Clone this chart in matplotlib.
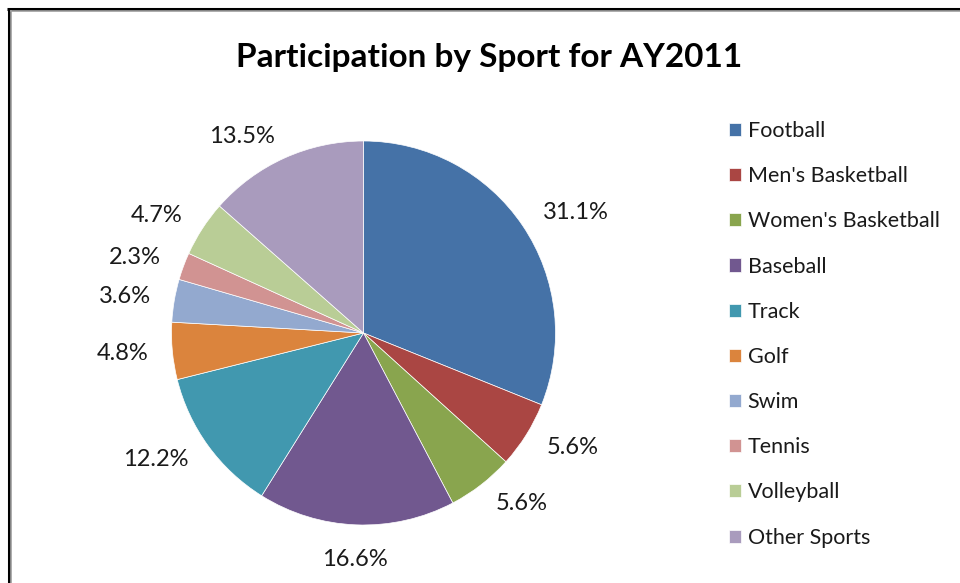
import math
import matplotlib
matplotlib.use("Agg")
import matplotlib.pyplot as plt
from matplotlib.lines import Line2D

sports = ["Football", "Men's Basketball", "Women's Basketball", "Baseball", "Track",
          "Golf", "Swim", "Tennis", "Volleyball", "Other Sports"]
shares = [31.1, 5.6, 5.6, 16.6, 12.2, 4.8, 3.6, 2.3, 4.7, 13.5]
colors = ["#4572A7", "#AA4643", "#89A54E", "#71588F", "#4198AF",
          "#DB843D", "#93A9CF", "#D19392", "#B9CD96", "#A99BBD"]
title = "Participation by Sport for AY2011"

plt.rcParams['font.family'] = ['Lato', 'DejaVu Sans']

W, H = 960, 583
fig = plt.figure(figsize=(W / 100, H / 100), dpi=100)

cx, cy, R = 363.5, 333.0, 192.0
ax = fig.add_axes([(cx - R) / W, (H - cy - R) / H, 2 * R / W, 2 * R / H])
wedges, _ = ax.pie(shares, colors=colors, startangle=90, counterclock=False,
                   radius=1.0, wedgeprops=dict(edgecolor='white', linewidth=0.5))
ax.set_xlim(-1, 1)
ax.set_ylim(-1, 1)
ax.set_aspect('auto')
ax.axis('off')

ld = 1.125
for w, v in zip(wedges, shares):
    th = math.radians((w.theta1 + w.theta2) / 2)
    c, s = math.cos(th), math.sin(th)
    x, y = ld * c, ld * s
    if abs(c) < 0.2:
        ha = 'center'
        va = 'top' if s < 0 else 'bottom'
    else:
        ha = 'left' if c > 0 else 'right'
        va = 'center'
    ax.text(x, y, f"{v:.1f}%", ha=ha, va=va, fontsize=17, color='#1a1a1a',
            clip_on=False)

fig.text(489 / W, (H - 57) / H, title, ha='center', va='center',
         fontsize=24, fontweight='bold', color='black')

leg = fig.legend(wedges, sports, loc='upper left',
                 bbox_to_anchor=(729 / W, (H - 121) / H), frameon=False,
                 fontsize=15.5, handlelength=0.56, handleheight=0.56,
                 handletextpad=0.3, labelspacing=1.17, borderpad=0, borderaxespad=0)
for t in leg.get_texts():
    t.set_color('#1a1a1a')

# chart border (top and left edges visible)
fig.add_artist(Line2D([8.5 / W, 8.5 / W], [0, (H - 8.5) / H], color='black',
                      linewidth=2.2, transform=fig.transFigure, solid_capstyle='butt'))
fig.add_artist(Line2D([7 / W, 1], [(H - 8.5) / H, (H - 8.5) / H], color='black',
                      linewidth=2.2, transform=fig.transFigure, solid_capstyle='butt'))
fig.add_artist(Line2D([11 / W, 11 / W], [0, (H - 10) / H], color='#a0a0a0',
                      linewidth=1.2, transform=fig.transFigure, solid_capstyle='butt'))
fig.add_artist(Line2D([10 / W, 1], [(H - 11) / H, (H - 11) / H], color='#a0a0a0',
                      linewidth=1.2, transform=fig.transFigure, solid_capstyle='butt'))

fig.savefig("out.png", dpi=100)
